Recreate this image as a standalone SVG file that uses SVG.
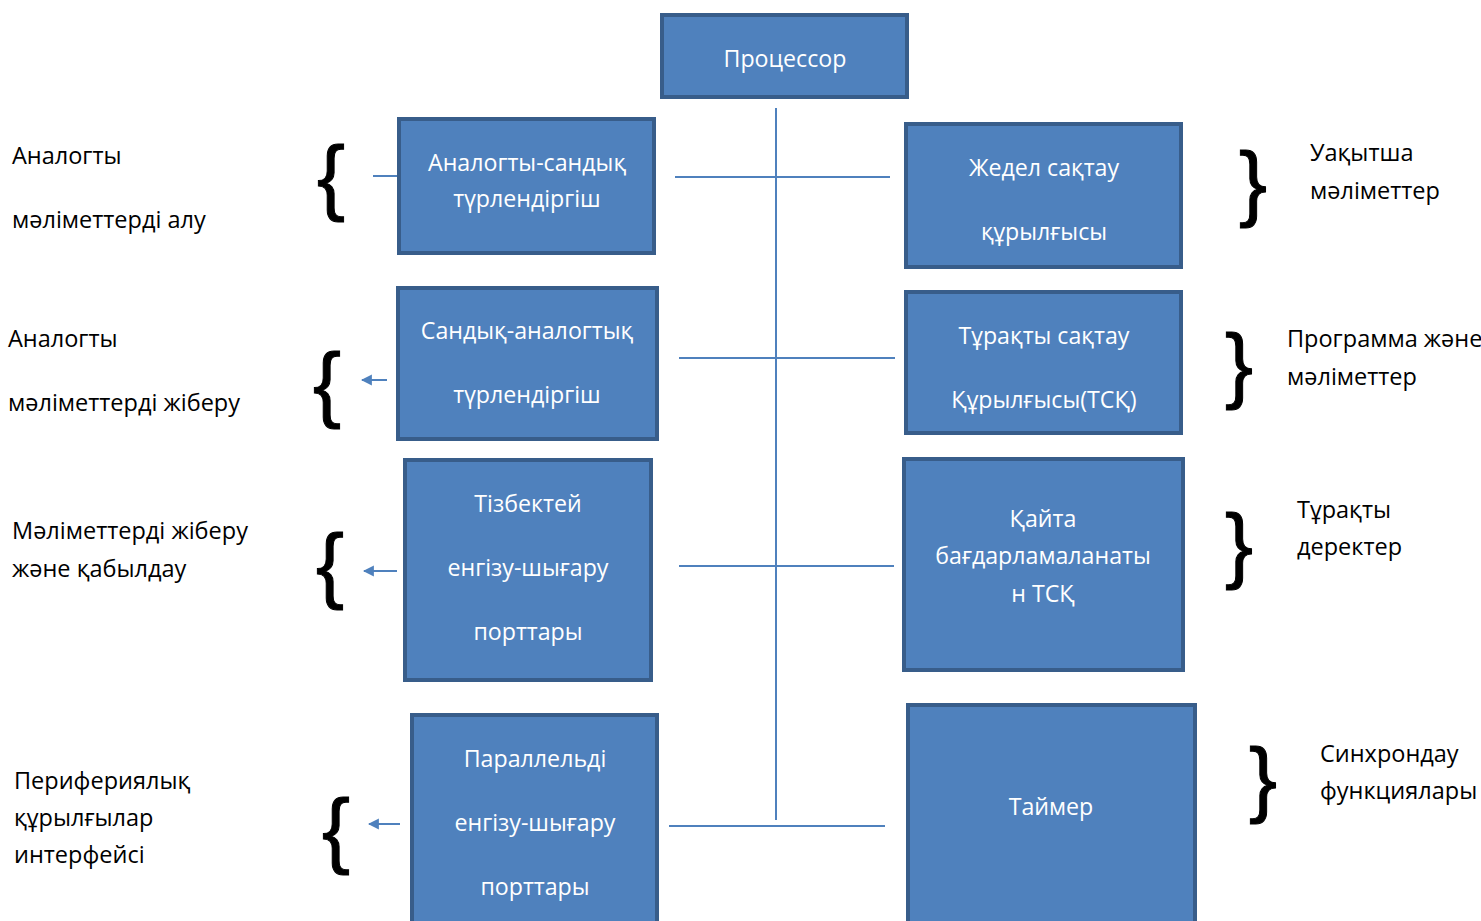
<svg xmlns="http://www.w3.org/2000/svg" width="1481" height="921" viewBox="0 0 1481 921">
<defs>
<style>
.box{fill:#4F81BD;stroke:#385D8A;stroke-width:4}
.bt{fill:#fff;font-family:"Open Sans","Noto Sans",sans-serif;font-size:23.2px;text-anchor:middle}
.lt{fill:#000;font-family:"Open Sans","Noto Sans",sans-serif;font-size:23.5px}
.br{fill:#000;font-family:"Liberation Sans",sans-serif;font-size:84px;stroke:#000;stroke-width:1}
.ln{stroke:#4F81BD;stroke-width:2;fill:none}
</style>
<marker id="ah" viewBox="0 0 10 10" refX="9" refY="5" markerWidth="5.5" markerHeight="6.5" orient="auto" markerUnits="strokeWidth">
<path d="M0,0 L10,5 L0,10 z" fill="#4F81BD"/>
</marker>
</defs>
<rect width="1481" height="921" fill="#fff"/>
<g id="connectors">
<line class="ln" x1="776" y1="108" x2="776" y2="820"/>
<line class="ln" x1="675" y1="177" x2="890" y2="177"/>
<line class="ln" x1="679" y1="358" x2="895" y2="358"/>
<line class="ln" x1="679" y1="566" x2="894" y2="566"/>
<line class="ln" x1="669" y1="826" x2="885" y2="826"/>
<line class="ln" x1="373" y1="176" x2="399" y2="176"/>
<line class="ln" x1="387" y1="380" x2="362" y2="380" marker-end="url(#ah)"/>
<line class="ln" x1="397" y1="571" x2="364" y2="571" marker-end="url(#ah)"/>
<line class="ln" x1="400" y1="824" x2="369" y2="824" marker-end="url(#ah)"/>
</g>
<g id="processor">
<rect class="box" x="662" y="15" width="245" height="82"/>
<text class="bt" x="785" y="67">Процессор</text>
</g>
<g id="adc">
<rect class="box" x="399" y="119" width="255" height="134"/>
<text class="bt" x="527" y="171">Аналогты-сандық</text>
<text class="bt" x="527" y="207">түрлендіргіш</text>
</g>
<g id="ram">
<rect class="box" x="906" y="124" width="275" height="143"/>
<text class="bt" x="1044" y="176">Жедел сақтау</text>
<text class="bt" x="1044" y="240">құрылғысы</text>
</g>
<g id="dac">
<rect class="box" x="398" y="288" width="259" height="151"/>
<text class="bt" x="527" y="339">Сандық-аналогтық</text>
<text class="bt" x="527" y="403">түрлендіргіш</text>
</g>
<g id="rom">
<rect class="box" x="906" y="292" width="275" height="141"/>
<text class="bt" x="1044" y="344">Тұрақты сақтау</text>
<text class="bt" x="1044" y="408">Құрылғысы(ТСҚ)</text>
</g>
<g id="serial">
<rect class="box" x="405" y="460" width="246" height="220"/>
<text class="bt" x="528" y="512">Тізбектей</text>
<text class="bt" x="528" y="576">енгізу-шығару</text>
<text class="bt" x="528" y="640">порттары</text>
</g>
<g id="eeprom">
<rect class="box" x="904" y="459" width="279" height="211"/>
<text class="bt" x="1043" y="527">Қайта</text>
<text class="bt" x="1043" y="564">бағдарламаланаты</text>
<text class="bt" x="1043" y="602">н ТСҚ</text>
</g>
<g id="parallel">
<rect class="box" x="412" y="715" width="245" height="220"/>
<text class="bt" x="535" y="767">Параллельді</text>
<text class="bt" x="535" y="831">енгізу-шығару</text>
<text class="bt" x="535" y="895">порттары</text>
</g>
<g id="timer">
<rect class="box" x="908" y="705" width="287" height="230"/>
<text class="bt" x="1051" y="815">Таймер</text>
</g>
<g id="labels-left">
<text class="lt" x="12" y="164">Аналогты</text>
<text class="lt" x="12" y="228">мәліметтерді алу</text>
<text class="lt" x="8" y="347">Аналогты</text>
<text class="lt" x="8" y="411">мәліметтерді жіберу</text>
<text class="lt" x="12" y="539">Мәліметтерді жіберу</text>
<text class="lt" x="12" y="577">және қабылдау</text>
<text class="lt" x="14" y="789">Перифериялық</text>
<text class="lt" x="14" y="826">құрылғылар</text>
<text class="lt" x="14" y="863">интерфейсі</text>
</g>
<g id="labels-right">
<text class="lt" x="1310" y="161">Уақытша</text>
<text class="lt" x="1310" y="199">мәліметтер</text>
<text class="lt" x="1287" y="347">Программа және</text>
<text class="lt" x="1287" y="385">мәліметтер</text>
<text class="lt" x="1297" y="518">Тұрақты</text>
<text class="lt" x="1297" y="555">деректер</text>
<text class="lt" x="1320" y="762">Синхрондау</text>
<text class="lt" x="1320" y="799">функциялары</text>
</g>
<g id="braces">
<text class="br" x="317" y="205">{</text>
<text class="br" x="313" y="412">{</text>
<text class="br" x="316" y="593">{</text>
<text class="br" x="322" y="858">{</text>
<text class="br" x="1239" y="211">}</text>
<text class="br" x="1225" y="393">}</text>
<text class="br" x="1225" y="573">}</text>
<text class="br" x="1249" y="807">}</text>
</g>
</svg>
